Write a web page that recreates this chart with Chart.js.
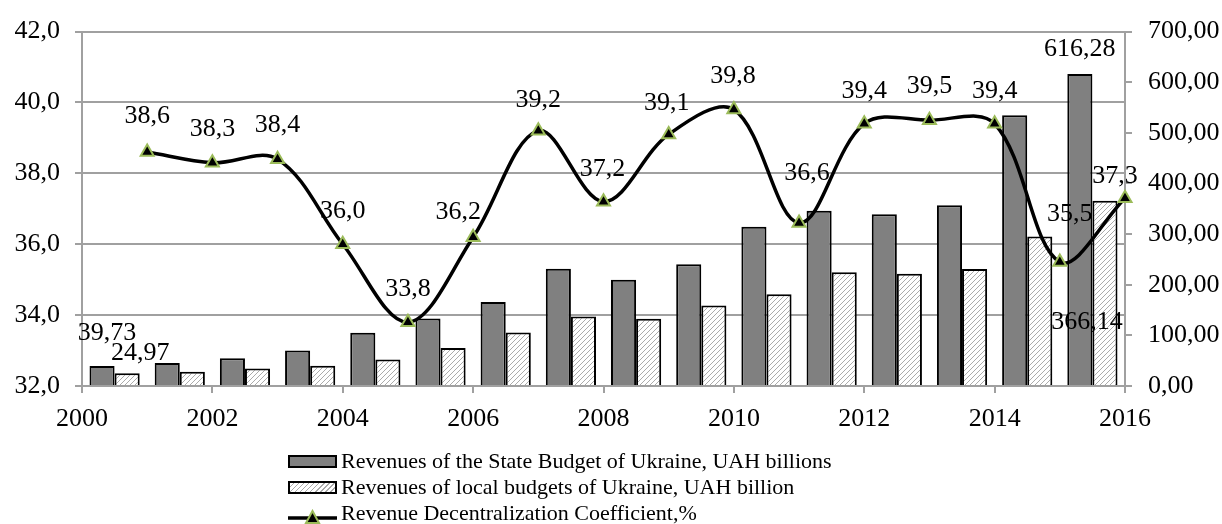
<!DOCTYPE html>
<html>
<head>
<meta charset="utf-8">
<script src="https://cdn.jsdelivr.net/npm/chart.js@4.4.0/dist/chart.umd.min.js"></script>
<style>
  html, body { margin: 0; padding: 0; background: #fff; }
  #wrap { position: relative; width: 1222px; height: 524px; overflow: hidden; }
  #c { position: absolute; left: 0; top: 0; }
  #legend { position: absolute; left: 288px; top: 448px; font-family: 'Liberation Serif', 'Times New Roman', serif; font-size: 22px; color: #000; }
  .row { display: flex; align-items: center; height: 26px; white-space: nowrap; }
  .sw { width: 49px; height: 13px; box-sizing: border-box; border: 2px solid #000; margin-right: 4px; flex: none; }
  .sw.dark { background: #808080; }
  .sw.hatch { background: repeating-linear-gradient(-45deg, #fff 0px, #fff 2.6px, #aaa 2.6px, #aaa 3.6px); }
  .sw.line { border: none; height: 16px; }
</style>
</head>
<body>
<div id="wrap">
  <canvas id="c" width="1222" height="524"></canvas>
  <div id="legend"></div>
</div>
<script>
// ---- data ----
const years = [2001, 2002, 2003, 2004, 2005, 2006, 2007, 2008, 2009, 2010, 2011, 2012, 2013, 2014, 2015, 2016];
const stateRevenue = [39.73, 45.4, 55.0, 70.3, 105.3, 133.5, 165.9, 231.7, 209.7, 240.6, 314.6, 346.1, 339.2, 357.1, 534.7, 616.28];
const localRevenue = [24.97, 28.0, 34.5, 40.0, 52.5, 75.0, 105.5, 137.5, 133.0, 159.0, 181.0, 224.5, 221.5, 231.0, 295.5, 366.14];
const decentralization = [38.6, 38.3, 38.4, 36.0, 33.8, 36.2, 39.2, 37.2, 39.1, 39.8, 36.6, 39.4, 39.5, 39.4, 35.5, 37.3];
const seriesNames = [
  'Revenues of the State Budget of Ukraine, UAH billions',
  'Revenues of local budgets of Ukraine, UAH billion',
  'Revenue Decentralization Coefficient,%'
];
const xRange = [2000, 2016, 2];
const leftRange = [32, 42, 2];
const rightRange = [0, 700, 100];
// which bar values carry a label
const stateLabelIdx = [0, 15];
const localLabelIdx = [0, 15];

// ---- styles (label offsets relative to the drawn mark) ----
const lineLabelOffsets = [[0,-36],[0,-34],[0,-34],[0,-33],[0,-33],[-15,-25],[0,-31],[-1,-33],[-2,-31],[-1,-33],[8,-50],[0,-33],[0,-34],[0,-33],[10,-48],[-10,-22]];
const stateLabelOffsets = {0: [5,-33], 15: [0,-25]};
const localLabelOffsets = {0: [13,-20], 15: [-18,122]};

const FONT = "'Liberation Serif', 'Times New Roman', serif";
const GRID = '#a0a0a0';
const TICK_SIZE = 26;
Chart.defaults.font.family = FONT;
Chart.defaults.font.size = TICK_SIZE;
Chart.defaults.color = '#000';

function hatchPattern() {
  const s = 5;
  const c = document.createElement('canvas');
  c.width = s; c.height = s;
  const g = c.getContext('2d');
  g.fillStyle = '#fff'; g.fillRect(0, 0, s, s);
  g.strokeStyle = '#ababab'; g.lineWidth = 1;
  g.beginPath();
  g.moveTo(0, s); g.lineTo(s, 0);
  g.moveTo(-1, 1); g.lineTo(1, -1);
  g.moveTo(s - 1, s + 1); g.lineTo(s + 1, s - 1);
  g.stroke();
  return g.createPattern(c, 'repeat');
}

const comma = (v, d) => v.toFixed(d).replace('.', ',');

const labelPlugin = {
  id: 'valueLabels',
  afterDatasetsDraw(chart) {
    const ctx = chart.ctx;
    ctx.save();
    ctx.font = TICK_SIZE + 'px ' + FONT;
    ctx.fillStyle = '#000';
    ctx.textAlign = 'center';
    ctx.textBaseline = 'middle';
    const lm = chart.getDatasetMeta(2);
    lm.data.forEach((pt, i) => {
      const o = lineLabelOffsets[i] || [0, -33];
      ctx.fillText(comma(decentralization[i], 1), pt.x + o[0], pt.y + o[1]);
    });
    const sm = chart.getDatasetMeta(0);
    stateLabelIdx.forEach(i => {
      const b = sm.data[i]; const o = stateLabelOffsets[i];
      ctx.fillText(comma(stateRevenue[i], 2), b.x + o[0], b.y + o[1]);
    });
    const lo = chart.getDatasetMeta(1);
    localLabelIdx.forEach(i => {
      const b = lo.data[i]; const o = localLabelOffsets[i];
      ctx.fillText(comma(localRevenue[i], 2), b.x + o[0], b.y + o[1]);
    });
    ctx.restore();
  }
};

// bars sit in the middle of each year's slot, the line on the year itself
const barPoints = vals => years.map((y, i) => ({ x: y - 0.5, y: vals[i] }));

const chart = new Chart(document.getElementById('c'), {
  type: 'bar',
  data: {
    datasets: [
      {
        type: 'bar', label: seriesNames[0], data: barPoints(stateRevenue),
        xAxisID: 'x', yAxisID: 'y2', order: 2,
        backgroundColor: '#808080', borderColor: '#000', borderWidth: 2,
        categoryPercentage: 0.77, barPercentage: 1.0
      },
      {
        type: 'bar', label: seriesNames[1], data: barPoints(localRevenue),
        xAxisID: 'x', yAxisID: 'y2', order: 2,
        backgroundColor: hatchPattern(), borderColor: '#000', borderWidth: 2,
        categoryPercentage: 0.77, barPercentage: 1.0
      },
      {
        type: 'line', label: seriesNames[2],
        data: years.map((y, i) => ({ x: y, y: decentralization[i] })),
        xAxisID: 'x', yAxisID: 'y', order: 0,
        borderColor: '#000', borderWidth: 3.5, tension: 0.35, fill: false,
        pointStyle: 'triangle', pointRadius: 7.5, pointBorderWidth: 2,
        pointBackgroundColor: '#000', pointBorderColor: '#9bbb59',
        clip: false
      }
    ]
  },
  options: {
    responsive: false,
    animation: false,
    events: [],
    layout: { padding: { top: 26, bottom: 98, left: 0, right: 0 } },
    plugins: { legend: { display: false }, tooltip: { enabled: false } },
    scales: {
      x: {
        type: 'linear', position: 'bottom', offset: false,
        min: xRange[0], max: xRange[1],
        afterFit: s => { s.height = 40; },
        ticks: { stepSize: xRange[2], padding: 11, callback: v => String(v), maxRotation: 0 },
        grid: { offset: false, drawOnChartArea: false, drawTicks: true, tickLength: 7, color: GRID, lineWidth: 2 },
        border: { display: true, color: GRID, width: 2 }
      },
      y: {
        type: 'linear', position: 'left',
        min: leftRange[0], max: leftRange[1],
        afterFit: s => { s.width = 82; },
        ticks: { stepSize: leftRange[2], padding: 15, callback: v => comma(v, 1) },
        grid: { color: GRID, lineWidth: 2, tickLength: 7 },
        border: { display: true, color: GRID, width: 2 }
      },
      y2: {
        type: 'linear', position: 'right',
        min: rightRange[0], max: rightRange[1],
        afterFit: s => { s.width = 97; },
        ticks: { stepSize: rightRange[2], padding: 16, callback: v => comma(v, 2) },
        grid: { drawOnChartArea: false, color: GRID, lineWidth: 2, tickLength: 7 },
        border: { display: true, color: GRID, width: 2 }
      }
    }
  },
  plugins: [labelPlugin]
});

// HTML legend from the chart's datasets
const legend = document.getElementById('legend');
const swClass = ['dark', 'hatch', 'line'];
chart.data.datasets.forEach((ds, i) => {
  const row = document.createElement('div');
  row.className = 'row';
  const sw = document.createElement('div');
  if (swClass[i] === 'line') {
    sw.className = 'sw line';
    sw.innerHTML = '<svg width="49" height="16"><line x1="0" y1="9" x2="49" y2="9" stroke="#000" stroke-width="3.5"/><polygon points="24.5,2 31,14 18,14" fill="#000" stroke="#9bbb59" stroke-width="2"/></svg>';
  } else {
    sw.className = 'sw ' + swClass[i];
  }
  const t = document.createElement('span');
  t.textContent = ds.label;
  row.appendChild(sw); row.appendChild(t);
  legend.appendChild(row);
});
</script>
</body>
</html>
